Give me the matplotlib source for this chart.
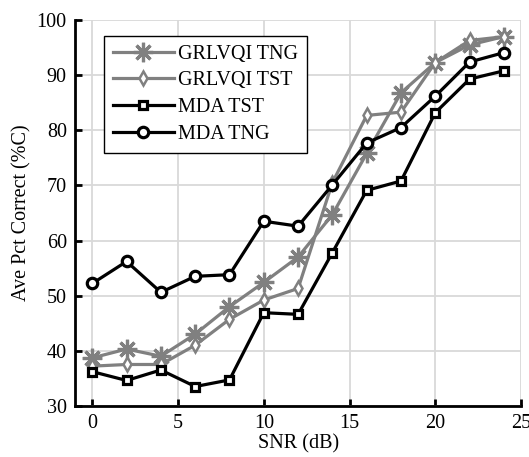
import matplotlib
matplotlib.use('Agg')
import matplotlib.pyplot as plt

plt.rcParams['font.family'] = ['Liberation Serif', 'DejaVu Serif']

snr = [0, 2, 4, 6, 8, 10, 12, 14, 16, 18, 20, 22, 24]

grlvqi_tng = [38.7, 40.3, 39.0, 43.0, 48.0, 52.4, 57.0, 64.7, 75.8, 86.8, 92.3, 95.5, 97.0]
grlvqi_tst = [37.2, 37.5, 37.5, 41.0, 45.7, 49.2, 51.3, 70.5, 82.7, 83.3, 92.3, 96.3, 97.0]
mda_tst = [36.2, 34.6, 36.5, 33.5, 34.7, 46.9, 46.6, 57.8, 69.1, 70.8, 83.2, 89.3, 90.8]
mda_tng = [52.2, 56.2, 50.6, 53.5, 53.8, 63.5, 62.6, 70.1, 77.7, 80.5, 86.2, 92.4, 94.1]

gray = '#808080'

fig = plt.figure(figsize=(5.29, 4.57), dpi=100)
ax = fig.add_axes([0.142, 0.112, 0.843, 0.844])

# MATLAB-style asterisk (+ and x overlaid)
ax.plot(snr, grlvqi_tng, color=gray, lw=2.3, marker=(8, 2, 0), markersize=14,
        markeredgewidth=2.3, label='GRLVQI TNG')
ax.plot(snr, grlvqi_tst, color=gray, lw=2.3, marker='d', markersize=7,
        markerfacecolor='white', markeredgewidth=1.8, label='GRLVQI TST')
ax.plot(snr, mda_tst, color='black', lw=2.3, marker='s', markersize=6,
        markerfacecolor='white', markeredgewidth=2.3, label='MDA TST')
ax.plot(snr, mda_tng, color='black', lw=2.3, marker='o', markersize=7.5,
        markerfacecolor='white', markeredgewidth=2.3, label='MDA TNG')

ax.set_xlim(-1, 25)
ax.set_ylim(30, 100)
ax.set_xticks([0, 5, 10, 15, 20, 25])
ax.set_yticks(range(30, 101, 10))
ax.grid(True, color='#d9d9d9', lw=1.3)
ax.set_axisbelow(True)
for s in ['top', 'right']:
    ax.spines[s].set_visible(False)
for s in ['left', 'bottom']:
    ax.spines[s].set_linewidth(2)
ax.tick_params(direction='in', width=2, length=5, labelsize=14.5, pad=6)
ax.set_xlabel('SNR (dB)', fontsize=14.5, labelpad=1)
ax.set_ylabel('Ave Pct Correct (%C)', fontsize=14.5, labelpad=4)

leg = ax.legend(loc='upper left', bbox_to_anchor=(0.065, 0.96), fontsize=14.5,
                fancybox=False, edgecolor='black', framealpha=1,
                handlelength=3.0, borderpad=0.45, labelspacing=0.38,
                handletextpad=0.2, borderaxespad=0)
leg.get_frame().set_linewidth(1)

fig.savefig('out.png', dpi=100)
